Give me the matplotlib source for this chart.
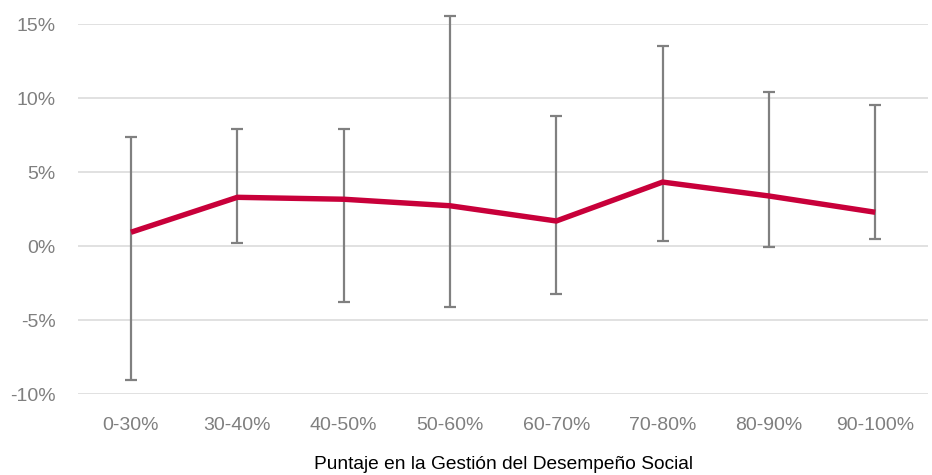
import matplotlib
matplotlib.use("Agg")
import matplotlib.pyplot as plt
import numpy as np

plt.rcParams['font.family'] = ['Liberation Sans', 'DejaVu Sans']

categories = ["0-30%", "30-40%", "40-50%", "50-60%", "60-70%", "70-80%", "80-90%", "90-100%"]
mean_return = [0.95, 3.31, 3.18, 2.74, 1.71, 4.34, 3.40, 2.30]
upper_bound = [7.4, 7.95, 7.95, 15.56, 8.8, 13.55, 10.4, 9.55]
lower_bound = [-9.0, 0.2, -3.76, -4.12, -3.2, 0.36, -0.02, 0.51]
y_ticks = [-10, -5, 0, 5, 10, 15]

W, H = 932, 475
fig = plt.figure(figsize=(W / 100, H / 100), dpi=100)
left_px, right_px = 77.8, 928.4
ax = fig.add_axes([left_px / W, 1 - 394.3 / H, (right_px - left_px) / W, (394.3 - 24.3) / H])

x = np.arange(len(categories))
mean = np.array(mean_return)
yerr = np.vstack([mean - np.array(lower_bound), np.array(upper_bound) - mean])

eb = ax.errorbar(x, mean, yerr=yerr, fmt='none', ecolor='#808080',
                 elinewidth=1.6, capsize=4.5, capthick=1.6, zorder=2)
for artist in eb.lines[1]:
    artist.set_clip_on(False)
for coll in eb.lines[2]:
    coll.set_clip_on(False)

ax.plot(x, mean, color='#C8003A', linewidth=3.9, solid_capstyle='butt',
        solid_joinstyle='miter', zorder=3)

ax.set_xlim(-0.5, len(categories) - 0.5)
ax.set_ylim(-10, 15)
ax.set_yticks(y_ticks)
ax.set_yticklabels([f"{v}%" for v in y_ticks])
ax.set_xticks(x)
ax.set_xticklabels(categories)

ax.grid(axis='y', color='#d9d9d9', linewidth=1.1, zorder=0)
ax.set_axisbelow(True)
for s in ax.spines.values():
    s.set_visible(False)
ax.tick_params(axis='both', length=0, labelsize=14, colors='#7f7f7f')
ax.tick_params(axis='y', pad=16)
ax.tick_params(axis='x', pad=16)

ax.set_xlabel("Puntaje en la Gestión del Desempeño Social", fontsize=13.8,
              color='#000000', labelpad=16)

fig.savefig("out.png", dpi=100)
